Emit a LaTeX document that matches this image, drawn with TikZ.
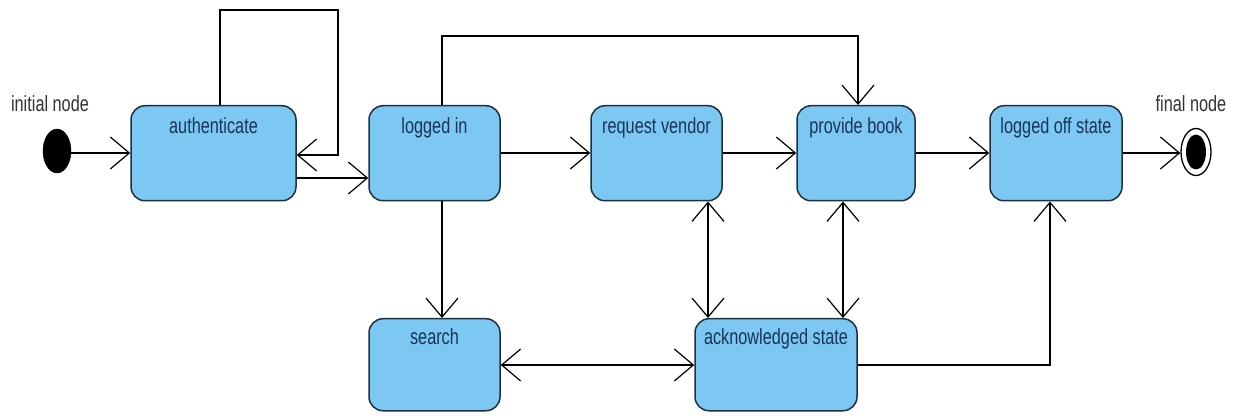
\documentclass[tikz,border=0pt]{standalone}
\usepackage{fontspec}
\setmainfont{Liberation Sans}[FakeStretch=0.74]
\usetikzlibrary{arrows.meta,shapes.geometric}
\definecolor{statefill}{RGB}{124,200,242}
\definecolor{stateline}{RGB}{30,48,66}
\definecolor{statetext}{RGB}{24,52,88}
\begin{document}
\begin{tikzpicture}[x=1pt,y=-1pt,
  state/.style={draw=stateline, fill=statefill, line width=1.5pt, rounded corners=14pt,
    inner xsep=0pt, inner ysep=0pt, anchor=north, text=statetext,
    font=\fontsize{22}{24}\selectfont, text height=28pt, text depth=67pt},
  arr/.style={line width=1.5pt, -{Straight Barb[length=19pt,width=32pt,line width=1.2pt]}},
  darr/.style={line width=1.5pt, {Straight Barb[length=19pt,width=32pt,line width=1.2pt]}-{Straight Barb[length=19pt,width=32pt,line width=1.2pt]}},
  lbl/.style={font=\fontsize{22}{24}\selectfont, text=black!80}]
\useasboundingbox[fill=white] (0,0) rectangle (1250,419);

% states
\node[state, minimum width=165pt] (auth)   at (213.5,105) {authenticate};
\node[state, minimum width=131pt] (login)  at (434.5,105) {logged in};
\node[state, minimum width=131pt] (rv)     at (656.5,105) {request vendor};
\node[state, minimum width=118pt] (pb)     at (856,105)   {provide book};
\node[state, minimum width=132pt] (off)    at (1056,105)  {logged off state};
\node[state, minimum width=131pt, text height=26pt, text depth=66pt] (search) at (434.5,318) {search};
\node[state, minimum width=162pt, text height=26pt, text depth=66pt] (ack)    at (776,318)   {acknowledged state};

% pseudo states
\node[draw=black, fill=black, ellipse, minimum width=28pt, minimum height=44pt, inner sep=0pt] (init) at (57,151) {};
\node[draw=black, line width=1.3pt, fill=white, ellipse, minimum width=30pt, minimum height=47pt, inner sep=0pt] (fin) at (1196,152) {};
\node[fill=black, ellipse, minimum width=20pt, minimum height=35pt, inner sep=0pt] (finDot) at (fin) {};
\node[lbl] (initLbl) at (50,104) {initial node};
\node[lbl] (finLbl) at (1191,104) {final node};

% routing points
\coordinate (loopL) at (220,10);
\coordinate (loopR) at (338,10);
\coordinate (loopIn) at (0,155);
\coordinate (lowRow) at (0,178);
\coordinate (midRow) at (0,153);
\coordinate (botRow) at (0,365);
\coordinate (topL) at (442,36);
\coordinate (topR) at (858,36);
\coordinate (rvX) at (708,0);
\coordinate (pbX) at (843,0);
\coordinate (offX) at (1050,0);

% transitions
\draw[arr] (init.east |- midRow) -- (auth.west |- midRow);
\draw[arr] (auth.north -| loopL) -- (loopL) -- (loopR) |- (auth.east |- loopIn);
\draw[arr] (auth.east |- lowRow) -- (login.west |- lowRow);
\draw[arr] (login.east |- midRow) -- (rv.west |- midRow);
\draw[arr] (rv.east |- midRow) -- (pb.west |- midRow);
\draw[arr] (pb.east |- midRow) -- (off.west |- midRow);
\draw[arr] (off.east |- midRow) -- (fin.west |- midRow);
\draw[arr] (login.north -| topL) -- (topL) -- (topR) -- (pb.north -| topR);
\draw[arr] (login.south -| topL) -- (search.north -| topL);
\draw[darr] (rv.south -| rvX) -- (ack.north -| rvX);
\draw[darr] (pb.south -| pbX) -- (ack.north -| pbX);
\draw[darr] (search.east |- botRow) -- (ack.west |- botRow);
\draw[arr] (ack.east |- botRow) -| (off.south -| offX);
\end{tikzpicture}
\end{document}
